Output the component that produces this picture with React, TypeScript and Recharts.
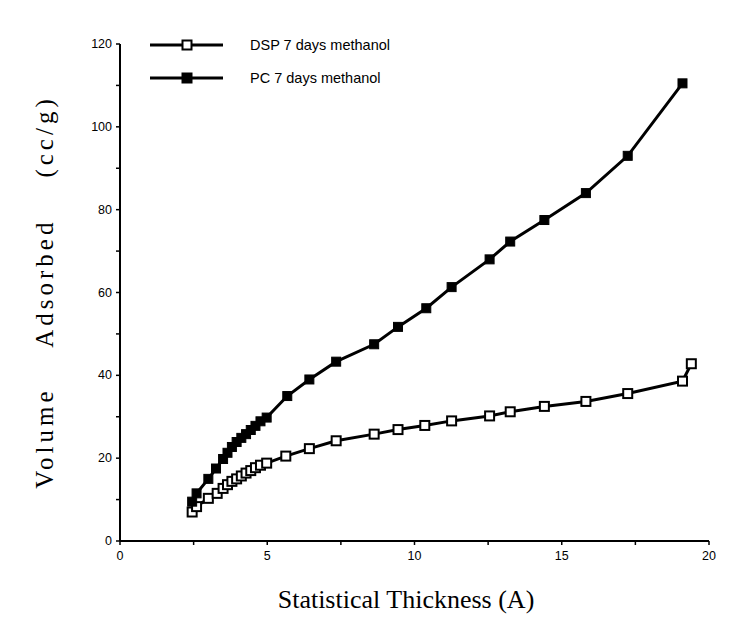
import React from 'react';
import { LineChart, Line, XAxis, YAxis, Label } from 'recharts';

// statistical thickness (A) vs volume adsorbed (cc/g)
const dspThickness = [2.45, 2.6, 3.0, 3.3, 3.5, 3.65, 3.8, 3.96, 4.12, 4.28, 4.44, 4.6, 4.77, 4.98, 5.63, 6.43, 7.34, 8.63, 9.44, 10.35, 11.26, 12.55, 13.25, 14.41, 15.82, 17.24, 19.1, 19.4];
const dspVolume = [7.0, 8.3, 10.3, 11.5, 12.7, 13.6, 14.4, 15.0, 15.7, 16.4, 17.0, 17.7, 18.3, 18.8, 20.5, 22.3, 24.2, 25.8, 26.9, 27.9, 29.0, 30.2, 31.2, 32.5, 33.7, 35.6, 38.6, 42.8];

const pcThickness = [2.45, 2.6, 3.0, 3.26, 3.5, 3.65, 3.8, 3.96, 4.12, 4.28, 4.44, 4.6, 4.77, 4.98, 5.68, 6.43, 7.34, 8.63, 9.44, 10.4, 11.26, 12.55, 13.25, 14.41, 15.82, 17.24, 19.1];
const pcVolume = [9.5, 11.5, 15.0, 17.5, 19.8, 21.3, 22.7, 23.9, 24.9, 25.8, 26.8, 27.8, 28.9, 29.8, 35.0, 39.0, 43.3, 47.5, 51.7, 56.2, 61.3, 68.0, 72.3, 77.5, 84.0, 93.0, 110.5];

const xTicks = [0, 2.5, 5, 7.5, 10, 12.5, 15, 17.5, 20];
const yTicks = [0, 10, 20, 30, 40, 50, 60, 70, 80, 90, 100, 110, 120];
const xLabelled = [0, 5, 10, 15, 20];
const yLabelled = [0, 20, 40, 60, 80, 100, 120];

const seriesNames = ['DSP 7 days methanol', 'PC 7 days methanol'];

const dspData = dspThickness.map((x, i) => ({ x, y: dspVolume[i] }));
const pcData = pcThickness.map((x, i) => ({ x, y: pcVolume[i] }));

const tickFont = '"Liberation Sans", Arial, sans-serif';
const serif = '"Liberation Serif", "Times New Roman", serif';

const OpenSquare = (props: any) => {
  const { cx, cy } = props;
  if (cx == null || cy == null) return null;
  return <rect x={cx - 4.5} y={cy - 4.5} width={9} height={9} fill="#fff" stroke="#000" strokeWidth={2} />;
};

const FilledSquare = (props: any) => {
  const { cx, cy } = props;
  if (cx == null || cy == null) return null;
  return <rect x={cx - 4.5} y={cy - 4.5} width={9} height={9} fill="#000" stroke="#000" strokeWidth={1} />;
};

const XTick = (props: any) => {
  const { x, y, payload } = props;
  if (!xLabelled.includes(payload.value)) return null;
  return (
    <text x={x} y={y + 13} textAnchor="middle" fontSize={12.5} fontFamily={tickFont} fill="#000">
      {payload.value}
    </text>
  );
};

const YTick = (props: any) => {
  const { x, y, payload } = props;
  if (!yLabelled.includes(payload.value)) return null;
  return (
    <text x={x - 2} y={y + 4} textAnchor="end" fontSize={12.5} fontFamily={tickFont} fill="#000">
      {payload.value}
    </text>
  );
};

// legend drawn as an overlay so it doesn't eat into the plot area
const LegendBox = () => (
  <div style={{ position: 'absolute', left: 148, top: 28, fontFamily: tickFont, fontSize: 14.5, color: '#000' }}>
    {seriesNames.map((name, i) => (
      <div key={name} style={{ display: 'flex', alignItems: 'center', height: 33 }}>
        <svg width={78} height={14}>
          <line x1={2} y1={7} x2={75} y2={7} stroke="#000" strokeWidth={3} />
          <rect x={34.5} y={2.5} width={9} height={9} fill={i === 0 ? '#fff' : '#000'} stroke="#000" strokeWidth={2} />
        </svg>
        <span style={{ marginLeft: 24 }}>{name}</span>
      </div>
    ))}
  </div>
);

export default function App() {
  return (
    <div style={{ position: 'absolute', left: 0, top: 0, width: 755, height: 638, background: '#fff' }}>
      <LineChart width={755} height={638} margin={{ top: 44, right: 46, left: 70, bottom: 67 }}>
        <XAxis
          type="number"
          dataKey="x"
          domain={[0, 20]}
          ticks={xTicks}
          interval={0}
          tick={<XTick />}
          tickSize={4}
          height={30}
          axisLine={{ stroke: '#000', strokeWidth: 2 }}
          tickLine={{ stroke: '#000', strokeWidth: 1.5 }}
        >
          <Label
            content={() => (
              <text x={406} y={608} textAnchor="middle" fontSize={26} fontFamily={serif} fill="#000">
                Statistical Thickness (A)
              </text>
            )}
          />
        </XAxis>
        <YAxis
          type="number"
          dataKey="y"
          domain={[0, 120]}
          ticks={yTicks}
          interval={0}
          tick={<YTick />}
          tickSize={4}
          width={50}
          axisLine={{ stroke: '#000', strokeWidth: 2 }}
          tickLine={{ stroke: '#000', strokeWidth: 1.5 }}
        >
          <Label
            content={() => (
              <text
                transform="translate(53, 292) rotate(-90)"
                textAnchor="middle"
                fontSize={25}
                fontFamily={serif}
                fill="#000"
                letterSpacing={4}
                style={{ whiteSpace: 'pre' }}
              >
                {'Volume    Adsorbed    (cc/g)'}
              </text>
            )}
          />
        </YAxis>
        <Line
          data={dspData}
          dataKey="y"
          name={seriesNames[0]}
          type="linear"
          stroke="#000"
          strokeWidth={3}
          dot={<OpenSquare />}
          activeDot={false}
          isAnimationActive={false}
        />
        <Line
          data={pcData}
          dataKey="y"
          name={seriesNames[1]}
          type="linear"
          stroke="#000"
          strokeWidth={3}
          dot={<FilledSquare />}
          activeDot={false}
          isAnimationActive={false}
        />
      </LineChart>
      <LegendBox />
    </div>
  );
}
